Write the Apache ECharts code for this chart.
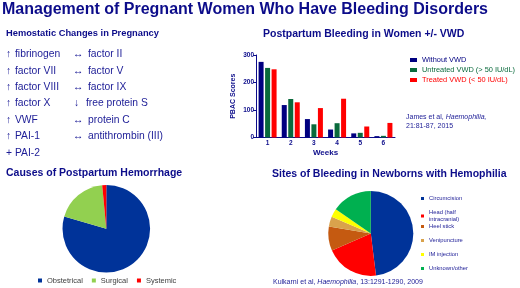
<!DOCTYPE html>
<html><head><meta charset="utf-8">
<script src="https://cdn.jsdelivr.net/npm/echarts@6/dist/echarts.min.js"></script>
<style>html,body{margin:0;padding:0;background:#fff}#c{width:520px;height:288px}</style>
</head><body><div id="c"></div>
<script>
// ---- data ----
const slideTitle = 'Management of Pregnant Women Who Have Bleeding Disorders';
const hemoTitle = 'Hemostatic Changes in Pregnancy';
const hemoCol1 = [['↑','fibrinogen'],['↑','factor VII'],['↑','factor VIII'],['↑','factor X'],['↑','VWF'],['↑','PAI-1'],['+','PAI-2']];
const hemoCol2 = [['↔','factor II'],['↔','factor V'],['↔','factor IX'],['↓','free protein S'],['↔','protein C'],['↔','antithrombin (III)']];

const barTitle = 'Postpartum Bleeding in Women +/- VWD';
const weeks = ['1','2','3','4','5','6'];
const barSeriesNames = ['Without VWD','Untreated VWD (> 50 IU/dL)','Treated VWD (< 50 IU/dL)'];
const withoutVWD = [275,118,67,29,15,5];
const untreatedVWD = [253,140,48,52,17,6];
const treatedVWD = [248,128,107,141,40,53];
const yTicks = [0,100,200,300];

const causeTitle = 'Causes of Postpartum Hemorrhage';
const causeNames = ['Obstetrical','Surgical','Systemic'];
const causeValues = [79.5,19,1.5];

const siteTitle = 'Sites of Bleeding in Newborns with Hemophilia';
const siteNames = ['Circumcision','Head (half intracranial)','Heel stick','Venipuncture','IM injection','Unknown/other'];
const siteValues = [48,20.3,9.2,3.8,3.2,15.4];

// ---- styles ----
const FF = "'Liberation Sans', Arial, sans-serif";
const NAVY = '#0c0c8a';
const ITEM = '#1c1c96';
const barColors = ['#000080','#0a6a3c','#ff0000'];
const causeColors = ['#003399','#92d050','#ff0000'];
const siteColors = ['#003399','#ff0000','#c55a11','#d9a24c','#ffff00','#00b050'];

const graphic = [];
function txt(t, x, y, size, color, bold, italic) {
  graphic.push({type:'text', x:x, y:y, style:{text:t, fill:color,
    font:(italic?'italic ':'')+(bold?'bold ':'')+size+'px '+FF, align:'left', verticalAlign:'middle'}});
}
txt(slideTitle, 2, 10, 16, NAVY, true);
txt(hemoTitle, 6, 33, 9.3, NAVY, true);
const rowY0 = 54.3, rowDy = 16.4;
hemoCol1.forEach((r,i)=>{ txt(r[0], 6, rowY0+i*rowDy, 10.3, ITEM); txt(r[1], 15, rowY0+i*rowDy, 10.3, ITEM); });
hemoCol2.forEach((r,i)=>{ txt(r[0], r[0]==='↓'?74:73, rowY0+i*rowDy, 10.3, ITEM); txt(r[1], r[0]==='↓'?86:88, rowY0+i*rowDy, 10.3, ITEM); });
txt(barTitle, 263, 34, 10.5, NAVY, true);
txt(causeTitle, 6, 173.5, 10.5, NAVY, true);
txt(siteTitle, 272, 174.5, 10.5, NAVY, true);
graphic.push({type:'text', x:406, y:117, style:{fill:ITEM, verticalAlign:'middle',
  rich:{n:{font:'7px '+FF, fill:ITEM}, i:{font:'italic 7px '+FF, fill:ITEM}},
  text:'{n|James et al, }{i|Haemophilia,}'}});
txt('21:81-87, 2015', 406, 126.5, 7, ITEM);
graphic.push({type:'text', x:273, y:282.5, style:{fill:ITEM, verticalAlign:'middle',
  rich:{n:{font:'7px '+FF, fill:ITEM}, i:{font:'italic 7px '+FF, fill:ITEM}},
  text:'{n|Kulkarni et al, }{i|Haemophilia}{n|, 13:1291-1290, 2009}'}});

const chart = echarts.init(document.getElementById('c'), null, {renderer:'canvas'});
const axisText = {color: NAVY, fontWeight:'bold', fontSize:6.5, fontFamily:FF};
chart.setOption({
  animation:false,
  textStyle:{fontFamily:FF},
  graphic: graphic,
  grid:{left:256, top:55, width:139, height:82.5},
  xAxis:{type:'category', data:weeks,
    axisLine:{lineStyle:{color:NAVY, width:1}},
    axisTick:{alignWithLabel:true, length:3, lineStyle:{color:NAVY}},
    axisLabel:Object.assign({margin:2}, axisText),
    name:'Weeks', nameLocation:'middle', nameGap:11,
    nameTextStyle:{color:NAVY, fontWeight:'bold', fontSize:8, fontFamily:FF}},
  yAxis:{type:'value', min:yTicks[0], max:yTicks[yTicks.length-1], interval:100,
    axisLine:{show:true, lineStyle:{color:NAVY, width:1}},
    axisTick:{show:true, length:3, lineStyle:{color:NAVY}},
    splitLine:{show:false},
    axisLabel:Object.assign({margin:2}, axisText),
    name:'PBAC Scores', nameLocation:'middle', nameGap:19, nameRotate:90,
    nameTextStyle:{color:NAVY, fontWeight:'bold', fontSize:7, fontFamily:FF}},
  legend:[
    {orient:'vertical', left:410, top:56, itemWidth:7, itemHeight:4, itemGap:2, padding:0,
     icon:'rect', data:barSeriesNames.map((n,i)=>({name:n, textStyle:{color:barColors[i]}})),
     textStyle:{fontSize:7.4, lineHeight:8, fontFamily:FF}},
    {orient:'horizontal', left:38, top:276.5, itemWidth:4, itemHeight:4, itemGap:9, padding:0,
     icon:'rect', data:causeNames, textStyle:{fontSize:7.5, color:'#404040', fontFamily:FF}},
    {orient:'vertical', left:421, top:195, itemWidth:3, itemHeight:3, itemGap:7, padding:0,
     icon:'rect', data:siteNames.slice(0,2),
     formatter:n=>n.replace('(half ','(half\n'),
     textStyle:{fontSize:5.8, lineHeight:7, color:ITEM, fontFamily:FF}},
    {orient:'vertical', left:421, top:223, itemWidth:3, itemHeight:3, itemGap:7, padding:0,
     icon:'rect', data:siteNames.slice(2),
     textStyle:{fontSize:5.8, lineHeight:7, color:ITEM, fontFamily:FF}}
  ],
  series:[
    {type:'bar', name:barSeriesNames[0], data:withoutVWD, barWidth:5, barGap:'30%', itemStyle:{color:barColors[0]}},
    {type:'bar', name:barSeriesNames[1], data:untreatedVWD, barWidth:5, barGap:'30%', itemStyle:{color:barColors[1]}},
    {type:'bar', name:barSeriesNames[2], data:treatedVWD, barWidth:5, barGap:'30%', itemStyle:{color:barColors[2]}},
    {type:'pie', center:[106.3,228.8], radius:43.8, startAngle:90, clockwise:true,
     label:{show:false}, labelLine:{show:false}, emphasis:{disabled:true},
     data:causeNames.map((n,i)=>({name:n, value:causeValues[i], itemStyle:{color:causeColors[i]}}))},
    {type:'pie', center:[370.8,233.4], radius:42.5, startAngle:90, clockwise:true,
     label:{show:false}, labelLine:{show:false}, emphasis:{disabled:true},
     data:siteNames.map((n,i)=>({name:n, value:siteValues[i], itemStyle:{color:siteColors[i]}}))}
  ]
});
</script></body></html>
